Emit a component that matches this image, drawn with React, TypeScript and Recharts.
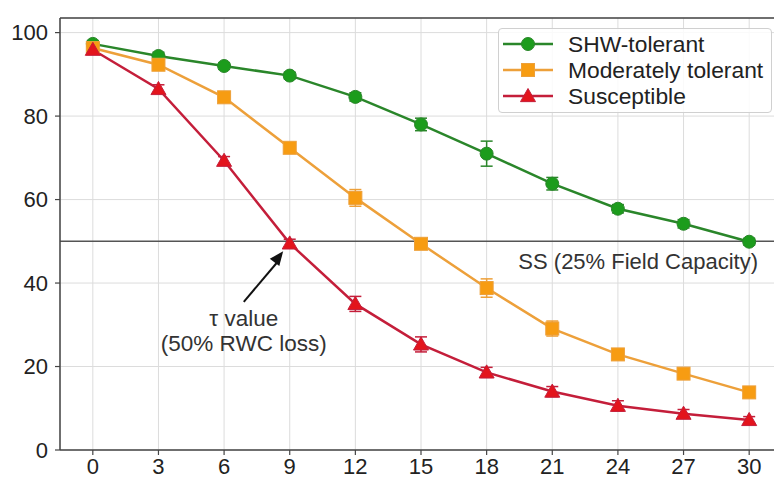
import React from 'react';
import {
  LineChart, Line, XAxis, YAxis, CartesianGrid, ReferenceLine, ReferenceDot, ErrorBar
} from 'recharts';

// days after stress onset
const days = [0, 3, 6, 9, 12, 15, 18, 21, 24, 27, 30];
// relative water content (%) per group
const shwTolerant = [97.3, 94.4, 92.0, 89.7, 84.6, 78.0, 71.0, 63.8, 57.8, 54.2, 49.9];
const shwErr = [0.8, 0.9, 0.8, 0.8, 1.0, 1.5, 3.0, 1.5, 1.0, 1.0, 0.8];
const moderate = [96.3, 92.3, 84.5, 72.4, 60.4, 49.4, 38.8, 29.1, 22.9, 18.3, 13.8];
const moderateErr = [1.0, 1.0, 1.0, 1.2, 2.0, 1.2, 2.2, 1.8, 1.0, 1.0, 1.0];
const susceptible = [95.9, 86.5, 69.3, 49.5, 35.0, 25.3, 18.6, 14.0, 10.6, 8.7, 7.2];
const susceptibleErr = [1.0, 1.0, 1.0, 1.0, 1.8, 1.8, 1.2, 1.2, 1.2, 1.0, 0.8];

const xTicks = [0, 3, 6, 9, 12, 15, 18, 21, 24, 27, 30];
const yTicks = [0, 20, 40, 60, 80, 100];
const xDomain = [-1.5, 31.5];
const yDomain = [0, 103.5];

const thresholdValue = 50;
const thresholdLabel = 'SS (25% Field Capacity)';
const tauTail = { x: 6.9, y: 35.5 };
const tauTip = { x: 8.7, y: 47.6 };
const tauText = { x: 6.9, y: 31.6 };
const tauLines = ['\u03c4 value', '(50% RWC loss)'];

const FONT = '"Liberation Sans", Arial, sans-serif';

const series = [
  { key: 'shw', err: 'shwErr', name: 'SHW-tolerant', line: '#2a862a', fill: '#1c9c1c', shape: 'circle' },
  { key: 'mod', err: 'modErr', name: 'Moderately tolerant', line: '#eda03a', fill: '#f79c12', shape: 'square' },
  { key: 'sus', err: 'susErr', name: 'Susceptible', line: '#c41e3a', fill: '#e3141c', shape: 'triangle' },
];

const data = days.map((d, i) => ({
  day: d,
  shw: shwTolerant[i], shwErr: shwErr[i],
  mod: moderate[i], modErr: moderateErr[i],
  sus: susceptible[i], susErr: susceptibleErr[i],
}));

const markerShape = (shape: string, cx: number, cy: number, fill: string, stroke: string, key?: any) => {
  if (shape === 'circle') {
    return <circle key={key} cx={cx} cy={cy} r={6.5} fill={fill} stroke={stroke} strokeWidth={1} />;
  }
  if (shape === 'square') {
    return <rect key={key} x={cx - 6.5} y={cy - 6.5} width={13} height={13} fill={fill} stroke={stroke} strokeWidth={1} />;
  }
  const h = 7.5;
  return (
    <polygon key={key}
      points={`${cx},${cy - h} ${cx + h},${cy + h * 0.75} ${cx - h},${cy + h * 0.75}`}
      fill={fill} stroke={stroke} strokeWidth={1} />
  );
};

const makeDot = (s: typeof series[number]) => (props: any) => {
  const { cx, cy, index } = props;
  if (cx == null || cy == null) return <g key={`e${index}`} />;
  return markerShape(s.shape, cx, cy, s.fill, s.line, `${s.key}-${index}`);
};

const SSLabel = (props: any) => {
  const vb = props.viewBox || {};
  return (
    <text x={vb.x + vb.width - 24} y={vb.y + 28} textAnchor="end"
      fontSize={22} fill="#333" fontFamily={FONT}>{thresholdLabel}</text>
  );
};

// arrow head drawn at the tip, direction from tail to tip in pixel space
const pxPerX = 722 / (xDomain[1] - xDomain[0]);
const pxPerY = 432 / (yDomain[1] - yDomain[0]);
const ArrowHead = (props: any) => {
  const { cx, cy } = props;
  const dx = (tauTip.x - tauTail.x) * pxPerX;
  const dy = -(tauTip.y - tauTail.y) * pxPerY;
  const len = Math.hypot(dx, dy);
  const ux = dx / len, uy = dy / len;
  const nx = -uy, ny = ux;
  const L = 14, W = 6;
  const bx = cx - ux * L, by = cy - uy * L;
  return (
    <polygon points={`${cx},${cy} ${bx + nx * W},${by + ny * W} ${bx - nx * W},${by - ny * W}`} fill="#111" />
  );
};

const TauLabel = (props: any) => {
  const { cx, cy } = props;
  return (
    <text x={cx} y={cy} textAnchor="middle" fontSize={22.5} fill="#333" fontFamily={FONT}>
      <tspan x={cx} dy="0.35em">{tauLines[0]}</tspan>
      <tspan x={cx} dy="1.1em">{tauLines[1]}</tspan>
    </text>
  );
};

const LegendBox = () => (
  <div style={{
    position: 'absolute', left: 498, top: 28, width: 274, height: 85,
    border: '1px solid #d0d0d0', borderRadius: 4, background: 'rgba(255,255,255,0.85)',
    boxSizing: 'border-box', paddingTop: 2, fontFamily: FONT,
  }}>
    {series.map((s) => (
      <div key={s.key} style={{ display: 'flex', alignItems: 'center', height: 26 }}>
        <svg width={62} height={26} style={{ marginLeft: 4 }}>
          <line x1={0} y1={13} x2={50} y2={13} stroke={s.line} strokeWidth={2.5} />
          {markerShape(s.shape, 25, 13, s.fill, s.line)}
        </svg>
        <span style={{ fontSize: 22.8, color: '#222', marginLeft: 3, lineHeight: '26px' }}>{s.name}</span>
      </div>
    ))}
  </div>
);

const App: React.FC = () => {
  const tick = { fontSize: 22, fill: '#222', fontFamily: FONT };
  return (
    <div style={{ position: 'absolute', left: 0, top: 0, width: 774, height: 479, overflow: 'hidden', background: '#fff' }}>
      <LineChart width={790} height={479} data={data} margin={{ top: 18, right: 8, bottom: 0, left: 5 }}>
        <CartesianGrid stroke="#dcdcdc" strokeWidth={1} />
        <XAxis dataKey="day" type="number" domain={xDomain} ticks={xTicks} height={29}
          tick={tick} tickSize={5} tickMargin={3} stroke="#444" strokeWidth={1.5}
          tickLine={{ stroke: '#444', strokeWidth: 1.2 }} allowDataOverflow />
        <YAxis type="number" domain={yDomain} ticks={yTicks} width={55}
          tick={tick} tickSize={5} tickMargin={7} stroke="#444" strokeWidth={1.5}
          tickLine={{ stroke: '#444', strokeWidth: 1.2 }} allowDataOverflow />
        <ReferenceLine y={yDomain[1]} stroke="#444" strokeWidth={1.5} />
        <ReferenceLine y={thresholdValue} stroke="#555" strokeWidth={1.5} label={SSLabel} />
        <ReferenceLine segment={[tauTail, { x: tauTip.x - 0.25, y: tauTip.y - 2.5 }]} stroke="#111" strokeWidth={2} />
        <ReferenceDot x={tauTip.x} y={tauTip.y} r={0} shape={ArrowHead} />
        <ReferenceDot x={tauText.x} y={tauText.y} r={0} shape={TauLabel} />
        {series.map((s) => (
          <Line key={s.key} dataKey={s.key} type="linear" stroke={s.line} strokeWidth={2.5}
            dot={makeDot(s)} activeDot={false} isAnimationActive={false}>
            <ErrorBar dataKey={s.err} direction="y" width={6} stroke={s.line} strokeWidth={1.5} />
          </Line>
        ))}
      </LineChart>
      <LegendBox />
    </div>
  );
};

export default App;
